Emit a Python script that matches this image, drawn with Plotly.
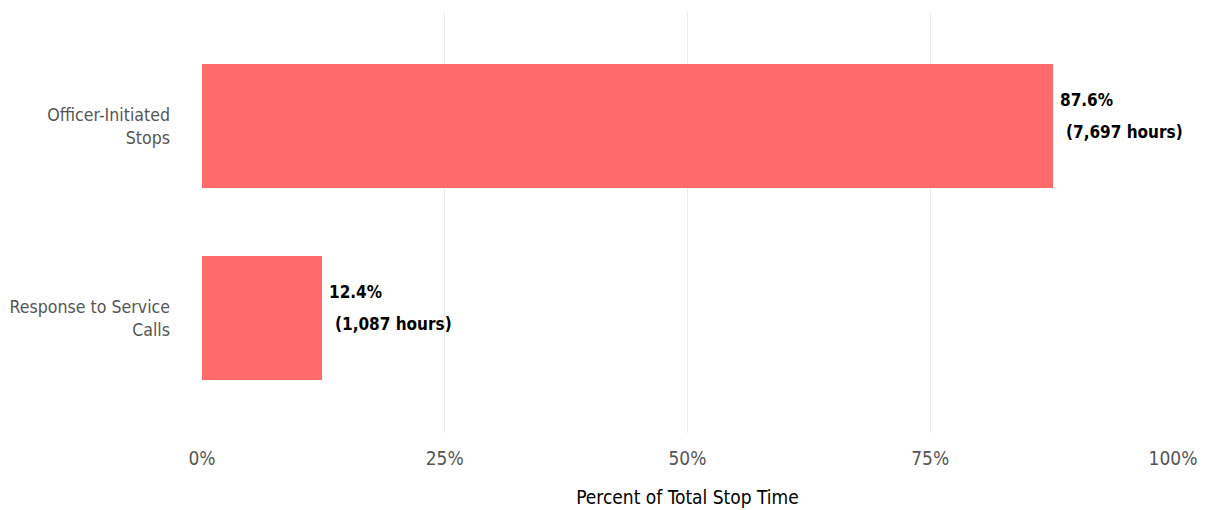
import plotly.graph_objects as go

categories = ["Response to Service<br>Calls", "Officer-Initiated<br>Stops"]
shares = [0.124, 0.876]
hours = [1087, 7697]
x_ticks = [0, 0.25, 0.5, 0.75, 1.0]
x_tick_labels = ["0%", "25%", "50%", "75%", "100%"]

FONT = "DejaVu Sans Condensed, Liberation Sans Narrow, sans-serif"

fig = go.Figure()
fig.add_trace(go.Bar(
    x=shares, y=categories, orientation="h",
    marker=dict(color="#FF6B6B", line=dict(width=0)),
    width=0.65, hoverinfo="skip",
))

for c, s, h in zip(categories, shares, hours):
    fig.add_annotation(
        x=s, y=c, xref="x", yref="y",
        text=f"<b>{s*100:.1f}%</b>",
        showarrow=False, xanchor="left", yanchor="middle", align="left",
        xshift=5, yshift=26,
        font=dict(family=FONT, size=17, color="#000000"),
    )
    fig.add_annotation(
        x=s, y=c, xref="x", yref="y",
        text=f"<b>({h:,} hours)</b>",
        showarrow=False, xanchor="left", yanchor="middle", align="left",
        xshift=11, yshift=-6,
        font=dict(family=FONT, size=17, color="#000000"),
    )

fig.update_layout(
    width=1197, height=500,
    margin=dict(l=194, r=32, t=3, b=75),
    plot_bgcolor="white", paper_bgcolor="white",
    showlegend=False,
    bargap=0,
    font=dict(family=FONT),
)
fig.update_xaxes(
    range=[0, 1], tickvals=x_ticks, ticktext=x_tick_labels,
    showgrid=True, gridcolor="#EBEBEB", gridwidth=1, zeroline=False,
    showline=False, ticks="", automargin=False, ticklabelstandoff=12,
    tickfont=dict(family=FONT, size=19, color="#555555"),
    title=dict(text="Percent of Total Stop Time", standoff=22,
               font=dict(family=FONT, size=19, color="#000000")),
)
fig.update_yaxes(
    categoryorder="array", categoryarray=categories,
    range=[-0.6, 1.6], showgrid=False, zeroline=False, showline=False,
    ticks="", ticklabelstandoff=31, automargin=False,
    tickfont=dict(family=FONT, size=17.6, color="#555555"),
)

fig.write_html("out.html")
